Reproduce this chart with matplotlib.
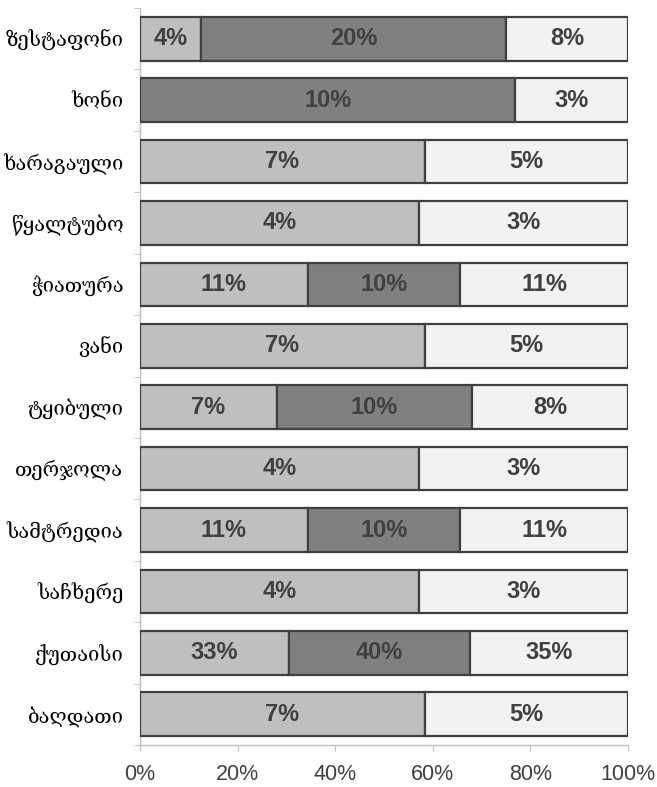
import matplotlib
matplotlib.use("Agg")
import matplotlib.pyplot as plt
import numpy as np

categories = ["ზესტაფონი", "ხონი", "ხარაგაული", "წყალტუბო", "ჭიათურა", "ვანი",
              "ტყიბული", "თერჯოლა", "სამტრედია", "საჩხერე", "ქუთაისი", "ბაღდათი"]
series_a = [4, 0, 7, 4, 11, 7, 7, 4, 11, 4, 33, 7]
series_b = [20, 10, 0, 0, 10, 0, 10, 0, 10, 0, 40, 0]
series_c = [8, 3, 5, 3, 11, 5, 8, 3, 11, 3, 35, 5]
xtick_labels = ["0%", "20%", "40%", "60%", "80%", "100%"]

colors = ["#bfbfbf", "#808080", "#f2f2f2"]

fig = plt.figure(figsize=(6.57, 7.87), dpi=100)
ax = fig.add_axes([140/657, 1-745/787, (628-140)/657, (745-8)/787])

data = np.array([series_a, series_b, series_c], dtype=float)
totals = data.sum(axis=0)
shares = data / totals
y = np.arange(len(categories))
left = np.zeros(len(categories))
for k in range(3):
    for i in range(len(categories)):
        w = shares[k, i]
        if w > 0:
            ax.barh(y[i], w, left=left[i], height=0.71, color=colors[k],
                    edgecolor="#404040", linewidth=1.6, zorder=3)
            ax.text(left[i] + w/2, y[i], f"{int(data[k, i])}%", ha="center", va="center",
                    fontsize=17, fontweight="bold", color="#404040",
                    family="Liberation Sans", zorder=4)
    left += shares[k]

ax.set_ylim(len(categories) - 0.5, -0.5)
ax.set_xlim(0, 1)
ax.set_yticks(y)
ax.set_yticklabels(categories, family="DejaVu Serif", fontsize=14.5, color="#000000")
ax.set_yticks(np.arange(-0.5, len(categories) + 0.5, 1), minor=True)
ax.tick_params(axis="y", which="major", length=0, pad=12)
ax.tick_params(axis="y", which="minor", length=4, color="#bfbfbf")
ax.set_xticks(np.linspace(0, 1, 6))
ax.set_xticklabels(xtick_labels, family="Liberation Sans", fontsize=15.5, color="#404040")
ax.tick_params(axis="x", length=4, color="#bfbfbf", pad=10)
for s in ["top", "right"]:
    ax.spines[s].set_visible(False)
for s in ["left", "bottom"]:
    ax.spines[s].set_color("#bfbfbf")
    ax.spines[s].set_linewidth(1.0)

fig.savefig("out.png", dpi=100)
